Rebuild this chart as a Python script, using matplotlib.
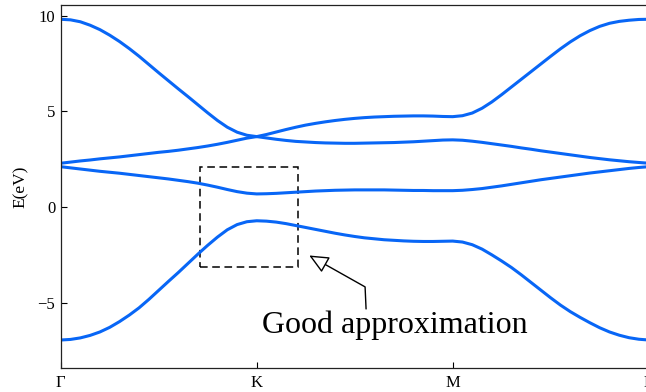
import numpy as np
import matplotlib
matplotlib.use("Agg")
import matplotlib.pyplot as plt
from matplotlib.patches import Rectangle, FancyArrowPatch
from matplotlib.path import Path

plt.rcParams['font.family'] = ['Liberation Serif', 'DejaVu Serif']

# k-path coordinate, step 0.05: 0 = Gamma, 1 = K, 2 = M, 3 = Gamma
k = np.linspace(0, 3, 61)

# band energies (eV) along the path, one row per half segment
band1 = [-6.92, -6.89, -6.81, -6.68, -6.50, -6.26, -5.96, -5.62, -5.24, -4.80,
         -4.33, -3.86, -3.40, -2.92, -2.44, -1.98, -1.55, -1.17, -0.90, -0.75,
         -0.70, -0.72, -0.77, -0.85, -0.95, -1.05, -1.15, -1.25, -1.35, -1.44,
         -1.52, -1.59, -1.64, -1.69, -1.72, -1.75, -1.77, -1.78, -1.78, -1.77,
         -1.76, -1.81, -1.95, -2.18, -2.48, -2.80, -3.14, -3.52, -3.92, -4.32,
         -4.72, -5.10, -5.44, -5.74, -6.02, -6.28, -6.50, -6.67, -6.80, -6.88, -6.92]
band2 = [2.12, 2.06, 2.00, 1.94, 1.88, 1.83, 1.78, 1.72, 1.66, 1.60,
         1.54, 1.48, 1.41, 1.34, 1.26, 1.16, 1.05, 0.93, 0.82, 0.74,
         0.70, 0.71, 0.73, 0.76, 0.79, 0.82, 0.85, 0.87, 0.89, 0.90,
         0.91, 0.91, 0.91, 0.91, 0.90, 0.89, 0.88, 0.88, 0.87, 0.87,
         0.87, 0.89, 0.93, 0.98, 1.05, 1.12, 1.20, 1.28, 1.36, 1.44,
         1.51, 1.58, 1.65, 1.72, 1.79, 1.85, 1.91, 1.97, 2.03, 2.08, 2.12]
band3 = [2.30, 2.36, 2.42, 2.47, 2.53, 2.58, 2.63, 2.69, 2.75, 2.81,
         2.87, 2.92, 2.98, 3.05, 3.12, 3.20, 3.29, 3.39, 3.50, 3.61,
         3.69, 3.62, 3.55, 3.49, 3.44, 3.41, 3.38, 3.36, 3.35, 3.34,
         3.34, 3.35, 3.36, 3.37, 3.38, 3.40, 3.42, 3.45, 3.48, 3.51,
         3.52, 3.50, 3.45, 3.39, 3.32, 3.25, 3.18, 3.10, 3.03, 2.95,
         2.88, 2.81, 2.74, 2.67, 2.60, 2.54, 2.48, 2.43, 2.38, 2.34, 2.30]
band4 = [9.81, 9.78, 9.68, 9.50, 9.27, 8.98, 8.65, 8.28, 7.88, 7.45,
         7.02, 6.60, 6.18, 5.77, 5.35, 4.93, 4.53, 4.18, 3.92, 3.76,
         3.69, 3.80, 3.93, 4.06, 4.18, 4.29, 4.38, 4.46, 4.53, 4.59,
         4.64, 4.68, 4.71, 4.73, 4.75, 4.76, 4.77, 4.77, 4.76, 4.74,
         4.73, 4.78, 4.92, 5.17, 5.50, 5.88, 6.28, 6.68, 7.08, 7.48,
         7.88, 8.27, 8.63, 8.95, 9.22, 9.44, 9.60, 9.70, 9.76, 9.80, 9.81]

kticks = [0, 1, 2, 3]
klabels = ['Γ', 'K', 'M', 'Γ']

fig = plt.figure(figsize=(6.46, 3.92), dpi=100)
ax = fig.add_axes([60.7 / 646, 24 / 392, 588 / 646, 363.3 / 392])

for band in [band1, band2, band3, band4]:
    ax.plot(k, band, color='#0866f6', lw=2.2, solid_capstyle='round',
            solid_joinstyle='round')

ax.set_xlim(0, 3)
ax.set_ylim(-8.38, 10.57)
ax.set_xticks(kticks)
ax.set_xticklabels(klabels)
ax.set_yticks([-5, 0, 5, 10])
ax.tick_params(direction='in', length=4.5, width=0.8, labelsize=12)
ax.tick_params(axis='x', pad=5)
ax.tick_params(axis='y', pad=4)
for s in ax.spines.values():
    s.set_linewidth(0.9)
    s.set_color('#222222')
ax.set_ylabel('E(eV)', fontsize=12.5, labelpad=6)

# region around K
ax.add_patch(Rectangle((0.709, -3.09), 0.503, 5.21, fill=False,
                       ec='black', lw=1.1, ls=(0, (5, 3))))

# arrow pointing at the box
arrow_path = Path([(1.558, -5.30), (1.553, -4.15), (1.268, -2.51)],
                  [Path.MOVETO, Path.LINETO, Path.LINETO])
ax.add_patch(FancyArrowPatch(path=arrow_path,
                             arrowstyle='-|>,head_length=1.0,head_width=0.45',
                             mutation_scale=12, fc='white', ec='black', lw=1.0))

ax.text(1.025, -6.55, 'Good approximation', fontsize=23, ha='left', va='baseline')

fig.savefig('out.png', dpi=100)
